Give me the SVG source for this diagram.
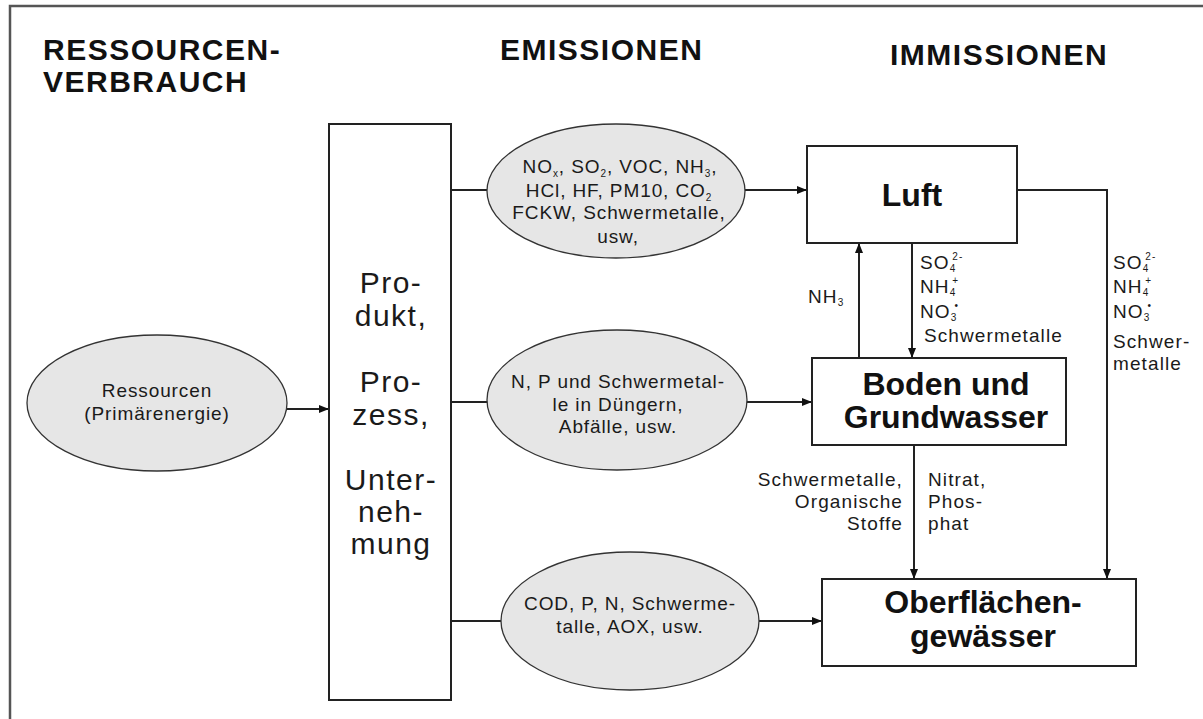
<svg xmlns="http://www.w3.org/2000/svg" width="1203" height="719" viewBox="0 0 1203 719">
<defs>
<style>
text{font-family:"Liberation Sans",Arial,sans-serif;fill:#1a1a1a}
.hd{font-size:30px;font-weight:bold;letter-spacing:1.5px;fill:#111}
.bx{fill:#fff;stroke:#222;stroke-width:2}
.el{fill:#e6e6e6;stroke:#333;stroke-width:1.3}
.et{font-size:19px;letter-spacing:0.9px;text-anchor:middle}
.bt{font-size:32px;font-weight:bold;text-anchor:middle;fill:#111}
.ct{font-size:30px;letter-spacing:1.5px;text-anchor:middle}
.lb{font-size:19px;letter-spacing:1.1px}
.sb{font-size:10px}
.cn{fill:none;stroke:#222;stroke-width:2}
</style>
<marker id="ah" viewBox="0 0 10 10" refX="10" refY="5" markerWidth="10" markerHeight="10" markerUnits="userSpaceOnUse" orient="auto">
<path d="M0,1 L10,5 L0,9 Z" fill="#111"/>
</marker>
</defs>
<rect width="1203" height="719" fill="#fff"/>
<path d="M10,719 V6 H1203" fill="none" stroke="#555" stroke-width="2.5"/>

<g id="headers">
<text class="hd" x="43" y="60">RESSOURCEN-</text>
<text class="hd" x="43" y="92">VERBRAUCH</text>
<text class="hd" x="500" y="60">EMISSIONEN</text>
<text class="hd" x="890" y="65">IMMISSIONEN</text>
</g>

<g id="connectors">
<line class="cn" x1="287" y1="409" x2="329" y2="409" marker-end="url(#ah)"/>
<line class="cn" x1="451" y1="190" x2="487" y2="190"/>
<line class="cn" x1="745" y1="190" x2="807" y2="190" marker-end="url(#ah)"/>
<line class="cn" x1="451" y1="402" x2="488" y2="402"/>
<line class="cn" x1="747" y1="402" x2="812" y2="402" marker-end="url(#ah)"/>
<line class="cn" x1="451" y1="621" x2="501" y2="621"/>
<line class="cn" x1="759" y1="621" x2="822" y2="621" marker-end="url(#ah)"/>
<line class="cn" x1="859" y1="358" x2="859" y2="243" marker-end="url(#ah)"/>
<line class="cn" x1="912" y1="243" x2="912" y2="358" marker-end="url(#ah)"/>
<line class="cn" x1="914" y1="445" x2="914" y2="579" marker-end="url(#ah)"/>
<path class="cn" d="M1017,190 H1107 V579" marker-end="url(#ah)"/>
</g>

<g id="ressourcen">
<ellipse class="el" cx="157" cy="403" rx="130" ry="68"/>
<text class="et" x="157" y="397">Ressourcen</text>
<text class="et" x="157" y="420">(Primärenergie)</text>
</g>

<g id="prozess">
<rect class="bx" x="329" y="124" width="122" height="576"/>
<text class="ct" x="391" y="293">Pro-</text>
<text class="ct" x="391" y="326">dukt,</text>
<text class="ct" x="391" y="392">Pro-</text>
<text class="ct" x="391" y="425">zess,</text>
<text class="ct" x="391" y="490">Unter-</text>
<text class="ct" x="391" y="522">neh-</text>
<text class="ct" x="391" y="554">mung</text>
</g>

<g id="em-luft">
<ellipse class="el" cx="616" cy="191" rx="129" ry="67"/>
<text class="et" x="620" y="173">NO<tspan class="sb" dy="4">x</tspan><tspan dy="-4">, SO</tspan><tspan class="sb" dy="4">2</tspan><tspan dy="-4">, VOC, NH</tspan><tspan class="sb" dy="4">3</tspan><tspan dy="-4">,</tspan></text>
<text class="et" x="619" y="197">HCl, HF, PM10, CO<tspan class="sb" dy="4">2</tspan></text>
<text class="et" x="619" y="219">FCKW, Schwermetalle,</text>
<text class="et" x="618" y="243">usw,</text>
</g>

<g id="em-boden">
<ellipse class="el" cx="617" cy="400" rx="130" ry="70"/>
<text class="et" x="618" y="388">N,  P und Schwermetal-</text>
<text class="et" x="618" y="411">le in Düngern,</text>
<text class="et" x="618" y="433">Abfälle, usw.</text>
</g>

<g id="em-wasser">
<ellipse class="el" cx="630" cy="621" rx="129" ry="69"/>
<text class="et" x="630" y="610">COD, P, N,  Schwerme-</text>
<text class="et" x="630" y="633">talle, AOX, usw.</text>
</g>

<g id="luft">
<rect class="bx" x="807" y="146" width="210" height="97"/>
<text class="bt" x="912" y="206">Luft</text>
</g>

<g id="boden">
<rect class="bx" x="812" y="358" width="254" height="87"/>
<text class="bt" x="946" y="395">Boden und</text>
<text class="bt" x="946" y="428">Grundwasser</text>
</g>

<g id="oberflaeche">
<rect class="bx" x="822" y="579" width="314" height="87"/>
<text class="bt" x="983" y="613">Oberflächen-</text>
<text class="bt" x="983" y="647">gewässer</text>
</g>

<g id="labels">
<text class="lb" x="808" y="303">NH<tspan class="sb" dy="3">3</tspan></text>
<text class="lb" x="920" y="269">SO<tspan class="sb" dy="3">4</tspan><tspan class="sb" dx="-4" dy="-12">2-</tspan></text>
<text class="lb" x="920" y="293">NH<tspan class="sb" dy="3">4</tspan><tspan class="sb" dx="-4" dy="-12">+</tspan></text>
<text class="lb" x="920" y="318">NO<tspan class="sb" dy="3">3</tspan><tspan class="sb" dx="-3" dy="-12">•</tspan></text>
<text class="lb" x="924" y="342">Schwermetalle</text>
<text class="lb" x="1113" y="269">SO<tspan class="sb" dy="3">4</tspan><tspan class="sb" dx="-4" dy="-12">2-</tspan></text>
<text class="lb" x="1113" y="293">NH<tspan class="sb" dy="3">4</tspan><tspan class="sb" dx="-4" dy="-12">+</tspan></text>
<text class="lb" x="1113" y="318">NO<tspan class="sb" dy="3">3</tspan><tspan class="sb" dx="-3" dy="-12">•</tspan></text>
<text class="lb" x="1113" y="348">Schwer-</text>
<text class="lb" x="1113" y="370">metalle</text>
<text class="lb" x="903" y="486" text-anchor="end">Schwermetalle,</text>
<text class="lb" x="903" y="508" text-anchor="end">Organische</text>
<text class="lb" x="903" y="530" text-anchor="end">Stoffe</text>
<text class="lb" x="928" y="486">Nitrat,</text>
<text class="lb" x="928" y="508">Phos-</text>
<text class="lb" x="928" y="530">phat</text>
</g>
</svg>
